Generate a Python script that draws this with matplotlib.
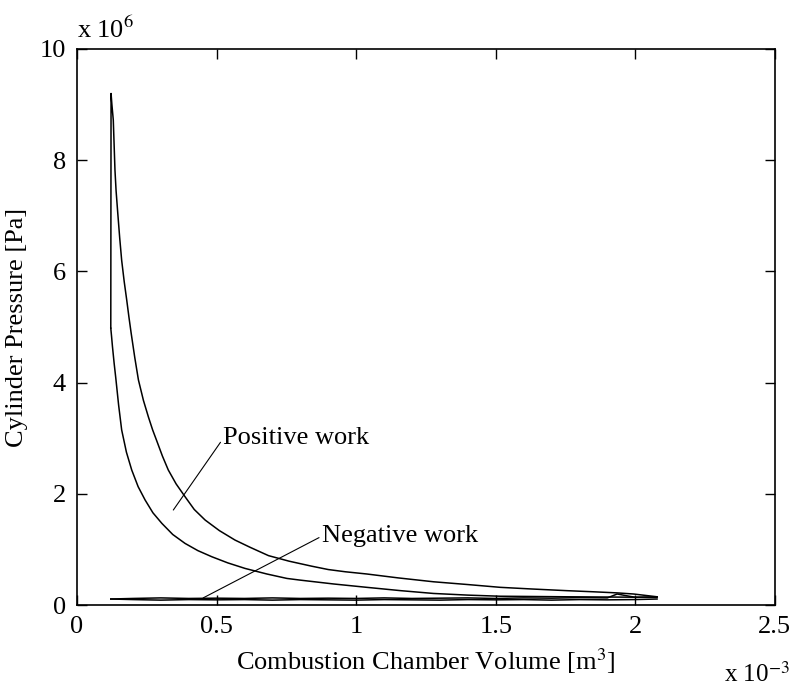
import matplotlib.pyplot as plt

plt.rcParams['font.family'] = ['Liberation Serif', 'DejaVu Serif']
plt.rcParams['mathtext.fontset'] = 'stix'

# volume in 1e-3 m^3, pressure in 1e6 Pa
vol_intake = [0.121, 0.20, 0.30, 0.40, 0.50, 0.60, 0.70, 0.80, 0.90, 1.00, 1.10, 1.20, 1.30,
              1.40, 1.50, 1.60, 1.70, 1.80, 1.90, 2.00, 2.078]
p_intake = [0.11, 0.10, 0.09, 0.10, 0.095, 0.10, 0.09, 0.10, 0.095, 0.09, 0.10, 0.095, 0.09,
            0.10, 0.095, 0.10, 0.09, 0.10, 0.095, 0.10, 0.11]

vol_comp = [2.078, 1.92, 1.755, 1.64, 1.516, 1.40, 1.277, 1.16, 1.038, 0.92, 0.799, 0.752,
            0.68, 0.602, 0.54, 0.483, 0.433, 0.387, 0.343, 0.304, 0.272, 0.244, 0.219,
            0.196, 0.177, 0.160, 0.149, 0.139, 0.133, 0.127, 0.124, 0.121]
p_comp = [0.14, 0.145, 0.15, 0.155, 0.16, 0.18, 0.21, 0.26, 0.32, 0.38, 0.45, 0.48,
          0.56, 0.66, 0.76, 0.87, 0.98, 1.11, 1.27, 1.47, 1.66, 1.89, 2.13,
          2.43, 2.75, 3.15, 3.60, 4.08, 4.35, 4.65, 4.82, 4.98]

vol_exp = [0.121, 0.122, 0.125, 0.130, 0.136, 0.140, 0.146, 0.153, 0.160, 0.169, 0.178,
           0.186, 0.194, 0.207, 0.220, 0.238, 0.256, 0.271, 0.286, 0.306, 0.327, 0.355,
           0.387, 0.42, 0.459, 0.51, 0.566, 0.62, 0.686, 0.76, 0.841, 0.90, 0.961, 1.038,
           1.15, 1.277, 1.40, 1.516, 1.63, 1.755, 1.85, 1.935, 1.994, 2.078]
p_exp = [4.98, 9.20, 9.00, 8.72, 7.82, 7.45, 7.05, 6.60, 6.20, 5.82, 5.49,
         5.18, 4.89, 4.45, 4.05, 3.68, 3.38, 3.15, 2.95, 2.68, 2.43, 2.18,
         1.95, 1.72, 1.53, 1.34, 1.17, 1.04, 0.89, 0.79, 0.70, 0.64, 0.60, 0.56,
         0.49, 0.42, 0.37, 0.32, 0.29, 0.26, 0.24, 0.22, 0.20, 0.15]

vol_exh = [2.078, 2.00, 1.935, 1.90, 1.80, 1.70, 1.60, 1.50, 1.40, 1.30, 1.20, 1.10, 1.00,
           0.90, 0.80, 0.70, 0.60, 0.50, 0.40, 0.30, 0.20, 0.121]
p_exh = [0.15, 0.14, 0.20, 0.13, 0.135, 0.125, 0.13, 0.12, 0.13, 0.125, 0.12, 0.13, 0.12,
         0.125, 0.12, 0.13, 0.12, 0.125, 0.12, 0.13, 0.12, 0.11]

fig = plt.figure(figsize=(7.98, 6.90), dpi=100)
ax = fig.add_axes([0.0965, 0.123, 0.8745, 0.806])

for v, p in [(vol_intake, p_intake), (vol_comp, p_comp), (vol_exp, p_exp), (vol_exh, p_exh)]:
    ax.plot(v, p, color='black', lw=1.1)

ax.set_xlim(0, 2.5)
ax.set_ylim(0, 10)
ax.set_xticks([0, 0.5, 1, 1.5, 2, 2.5])
ax.set_xticklabels(['0', '0.5', '1', '1.5', '2', '2.5'])
ax.set_yticks([0, 2, 4, 6, 8, 10])
ax.tick_params(direction='in', length=7, width=1, top=True, right=True, labelsize=19, pad=8)
for s in ax.spines.values():
    s.set_linewidth(1.2)

ax.set_xlabel('Combustion Chamber Volume [m$^3$]', fontsize=19, labelpad=6)
ax.set_ylabel('Cylinder Pressure [Pa]', fontsize=19, labelpad=8)

ax.text(0.0, 1.01, 'x 10$^6$', transform=ax.transAxes, fontsize=19, ha='left', va='bottom')
fig.text(0.99, 0.005, 'x 10$^{-3}$', fontsize=18, ha='right', va='bottom')

line_style = dict(arrowstyle='-', color='black', lw=0.8, shrinkA=0, shrinkB=0, relpos=(0, 0.5))
ax.annotate('Positive work', xy=(0.345, 1.71), xytext=(0.524, 3.00), fontsize=19,
            va='center', ha='left', arrowprops=line_style)
ax.annotate('Negative work', xy=(0.452, 0.13), xytext=(0.877, 1.24), fontsize=19,
            va='center', ha='left', arrowprops=line_style)

fig.savefig('out.png', dpi=100)
